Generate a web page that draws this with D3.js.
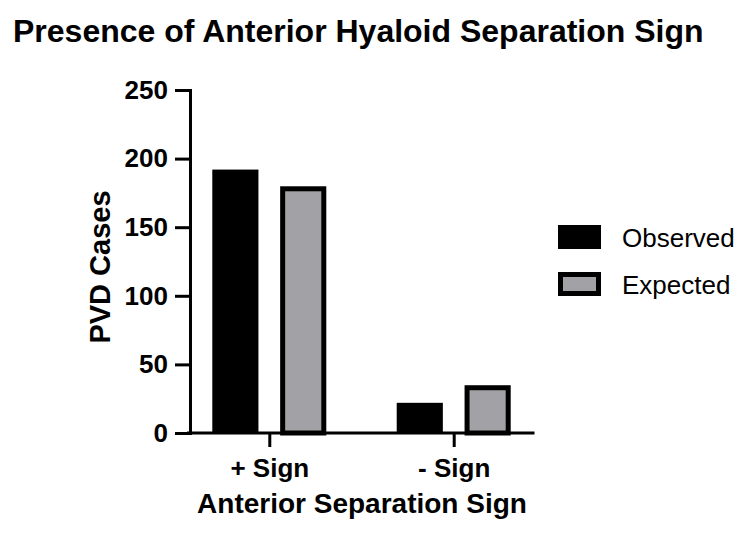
<!DOCTYPE html>
<html>
<head>
<meta charset="utf-8">
<script src="https://cdn.jsdelivr.net/npm/d3@7"></script>
<style>
  body { margin: 0; background: #fff; }
  svg text { font-family: "Liberation Sans", Arial, Helvetica, sans-serif; fill: #000; }
  .axis path, .axis line { stroke: #000; stroke-width: 3; }
  .axis text { font-size: 26px; font-weight: bold; }
</style>
</head>
<body>
<svg class="chart"></svg>
<script>
// data
const categories = ["+ Sign", "- Sign"]
const series = ["Observed", "Expected"]
const observed = [192, 22]
const expected = [178, 33]
const yTicks = [0, 50, 100, 150, 200, 250]

const colors = {"Observed": "#000000", "Expected": "#a2a2a6"}

const width = 750, height = 534
const plot = {left: 190, right: 533, top: 90, bottom: 433}

const svg = d3.select(".chart")
    .attr("width", width)
    .attr("height", height)

svg.append("text")
    .text("Presence of Anterior Hyaloid Separation Sign")
    .attr("x", 13)
    .attr("y", 42)
    .style("font-size", "32px")
    .style("font-weight", "bold")

const xScale = d3.scalePoint()
    .domain(categories)
    .range([plot.left, plot.right])
    .padding(0.43)

const xSub = d3.scaleBand()
    .domain(series)
    .range([-57, 57])
    .paddingInner(0.32)

const yScale = d3.scaleLinear()
    .domain([0, 250])
    .range([plot.bottom, plot.top])

// bars
const rows = categories.map((c, i) => [
    {cat: c, key: "Observed", value: observed[i]},
    {cat: c, key: "Expected", value: expected[i]}
]).flat()

const sw = 5
svg.append("g").selectAll("rect")
    .data(rows)
    .join("rect")
    .attr("x", d => xScale(d.cat) + xSub(d.key) + (d.key === "Expected" ? sw / 2 : 0))
    .attr("y", d => yScale(d.value))
    .attr("width", d => xSub.bandwidth() - (d.key === "Expected" ? sw : 0))
    .attr("height", d => plot.bottom - yScale(d.value))
    .attr("fill", d => colors[d.key])
    .attr("stroke", d => d.key === "Expected" ? "#000" : "none")
    .attr("stroke-width", sw)

// axes
svg.append("g")
    .attr("class", "y axis")
    .attr("transform", `translate(${plot.left},0)`)
    .call(d3.axisLeft(yScale).tickValues(yTicks).tickSize(15).tickPadding(7).tickSizeOuter(0))

svg.append("g")
    .attr("class", "x axis")
    .attr("transform", `translate(0,${plot.bottom})`)
    .call(d3.axisBottom(xScale).tickSize(14).tickPadding(12).tickSizeOuter(0))
    .call(g => g.select(".domain").attr("d", `M${plot.left - 1.5},0H${plot.right}`))

svg.selectAll(".axis .domain").attr("stroke-linecap", "square")

svg.append("text")
    .text("PVD Cases")
    .attr("text-anchor", "middle")
    .attr("transform", "translate(110,267) rotate(-90)")
    .style("font-size", "29px")
    .style("font-weight", "bold")

svg.append("text")
    .text("Anterior Separation Sign")
    .attr("text-anchor", "middle")
    .attr("x", 362)
    .attr("y", 513)
    .style("font-size", "28px")
    .style("font-weight", "bold")

// legend
const legend = svg.append("g").attr("transform", "translate(558,225)")
series.forEach((s, i) => {
    const item = legend.append("g").attr("transform", `translate(0,${i * 47})`)
    if (s === "Expected") {
        item.append("rect")
            .attr("x", 2.5).attr("y", 2.5)
            .attr("width", 38).attr("height", 19)
            .attr("fill", colors[s]).attr("stroke", "#000").attr("stroke-width", sw)
    } else {
        item.append("rect")
            .attr("width", 43).attr("height", 24)
            .attr("fill", colors[s])
    }
    item.append("text")
        .text(s)
        .attr("x", 64)
        .attr("y", 22)
        .style("font-size", "26px")
})
</script>
</body>
</html>
